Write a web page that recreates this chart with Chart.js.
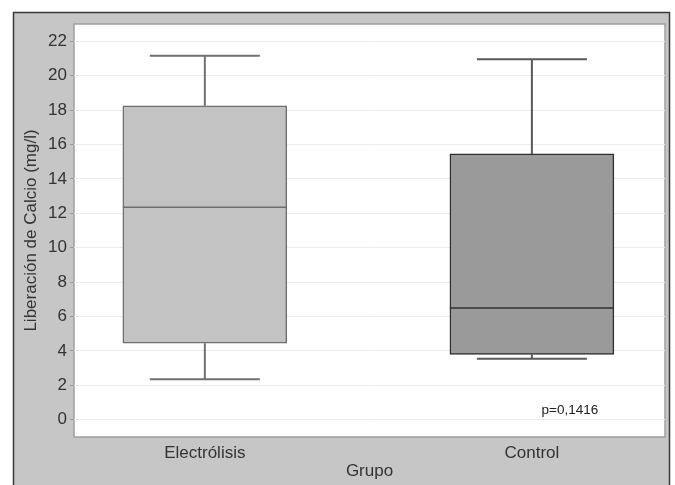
<!DOCTYPE html>
<html>
<head>
<meta charset="utf-8">
<script src="https://cdn.jsdelivr.net/npm/chart.js@4"></script>
<style>
  html, body { margin: 0; padding: 0; background: #fff; }
  #wrap { width: 675px; height: 485px; }
</style>
</head>
<body>
<div id="wrap"><canvas id="boxChart" width="675" height="485"></canvas></div>
<script>
// Box plot values
const groups = ["Electrólisis", "Control"];
const groupPos = [1, 2];
const whiskerLow = [2.35, 3.55];
const q1 = [4.45, 3.8];
const medians = [12.35, 6.5];
const q3 = [18.25, 15.45];
const whiskerHigh = [21.15, 20.95];
const yTicks = [0, 2, 4, 6, 8, 10, 12, 14, 16, 18, 20, 22];
const pValueText = "p=0,1416";

const boxFill = ["#c3c3c3", "#9a9a9a"];
const boxLine = ["#6e6e6e", "#2e2e2e"];
const whiskerColor = ["#707070", "#5a5a5a"];

const FONT = "'Liberation Sans', Arial, sans-serif";

// Frame, white plot area, whiskers, medians and p-value
const boxPlotExtras = {
    id: "boxPlotExtras",
    beforeDraw(chart) {
        const ctx = chart.ctx;
        const a = chart.chartArea;
        ctx.save();
        ctx.fillStyle = "#c6c6c6";
        ctx.fillRect(13, 12, 657, 480);
        ctx.strokeStyle = "#3a3a3a";
        ctx.lineWidth = 1.5;
        ctx.strokeRect(13.5, 12.5, 656, 480);
        ctx.fillStyle = "#ffffff";
        ctx.fillRect(a.left, a.top, a.right - a.left, a.bottom - a.top);
        ctx.strokeStyle = "#a0a0a0";
        ctx.lineWidth = 1.5;
        ctx.strokeRect(a.left, a.top, a.right - a.left, a.bottom - a.top);
        ctx.restore();
    },
    afterDatasetsDraw(chart) {
        const ctx = chart.ctx;
        const xs = chart.scales.x;
        const ys = chart.scales.y;
        ctx.save();
        groupPos.forEach(function(p, i) {
            const cx = xs.getPixelForValue(p);
            const capHalf = 55;
            ctx.strokeStyle = whiskerColor[i];
            ctx.lineWidth = 2;
            ctx.beginPath();
            // upper whisker
            ctx.moveTo(cx, ys.getPixelForValue(q3[i]));
            ctx.lineTo(cx, ys.getPixelForValue(whiskerHigh[i]));
            ctx.moveTo(cx - capHalf, ys.getPixelForValue(whiskerHigh[i]));
            ctx.lineTo(cx + capHalf, ys.getPixelForValue(whiskerHigh[i]));
            // lower whisker
            ctx.moveTo(cx, ys.getPixelForValue(q1[i]));
            ctx.lineTo(cx, ys.getPixelForValue(whiskerLow[i]));
            ctx.moveTo(cx - capHalf, ys.getPixelForValue(whiskerLow[i]));
            ctx.lineTo(cx + capHalf, ys.getPixelForValue(whiskerLow[i]));
            ctx.stroke();
            // median
            ctx.strokeStyle = boxLine[i];
            ctx.lineWidth = 1.5;
            ctx.beginPath();
            ctx.moveTo(cx - 82, ys.getPixelForValue(medians[i]));
            ctx.lineTo(cx + 82, ys.getPixelForValue(medians[i]));
            ctx.stroke();
        });
        ctx.fillStyle = "#222";
        ctx.font = "13.5px " + FONT;
        ctx.textAlign = "center";
        ctx.textBaseline = "middle";
        ctx.fillText(pValueText, xs.getPixelForValue(2.116), ys.getPixelForValue(0.57));
        ctx.restore();
    }
};

const ctx = document.getElementById("boxChart").getContext("2d");

new Chart(ctx, {
    type: "bar",
    data: {
        datasets: [{
            data: groupPos.map(function(p, i) { return { x: p, y: [q1[i], q3[i]] }; }),
            backgroundColor: boxFill,
            borderColor: boxLine,
            borderWidth: 1.5,
            borderSkipped: false,
            barThickness: 164,
            grouped: false
        }]
    },
    options: {
        responsive: false,
        animation: false,
        layout: { padding: { left: 18, right: 10, top: 24, bottom: 0 } },
        plugins: {
            legend: { display: false },
            tooltip: { enabled: false }
        },
        scales: {
            x: {
                type: "linear",
                offset: false,
                min: 0.6,
                max: 2.407,
                afterBuildTicks: function(scale) {
                    scale.ticks = groupPos.map(function(v) { return { value: v }; });
                },
                afterFit: function(scale) { scale.height = 48; },
                grid: { display: false, drawTicks: false },
                border: { display: false },
                ticks: {
                    padding: 6,
                    color: "#333",
                    font: { family: FONT, size: 17 },
                    callback: function(v) { return groups[groupPos.indexOf(v)] || ""; }
                },
                title: {
                    display: true,
                    text: "Grupo",
                    color: "#333",
                    font: { family: FONT, size: 17 },
                    padding: { top: 0, bottom: 3 }
                }
            },
            y: {
                min: -1,
                max: 23,
                afterBuildTicks: function(scale) {
                    scale.ticks = yTicks.map(function(v) { return { value: v }; });
                },
                afterFit: function(scale) { scale.width = 56; },
                grid: {
                    color: "#ececec",
                    lineWidth: 1,
                    drawTicks: true,
                    tickLength: 4,
                    tickColor: "#999"
                },
                border: { display: false },
                ticks: {
                    padding: 3,
                    color: "#333",
                    font: { family: FONT, size: 17 }
                },
                title: {
                    display: true,
                    text: "Liberación de Calcio (mg/l)",
                    color: "#333",
                    font: { family: FONT, size: 17 },
                    padding: { top: 3, bottom: 0 }
                }
            }
        }
    },
    plugins: [boxPlotExtras]
});
</script>
</body>
</html>
